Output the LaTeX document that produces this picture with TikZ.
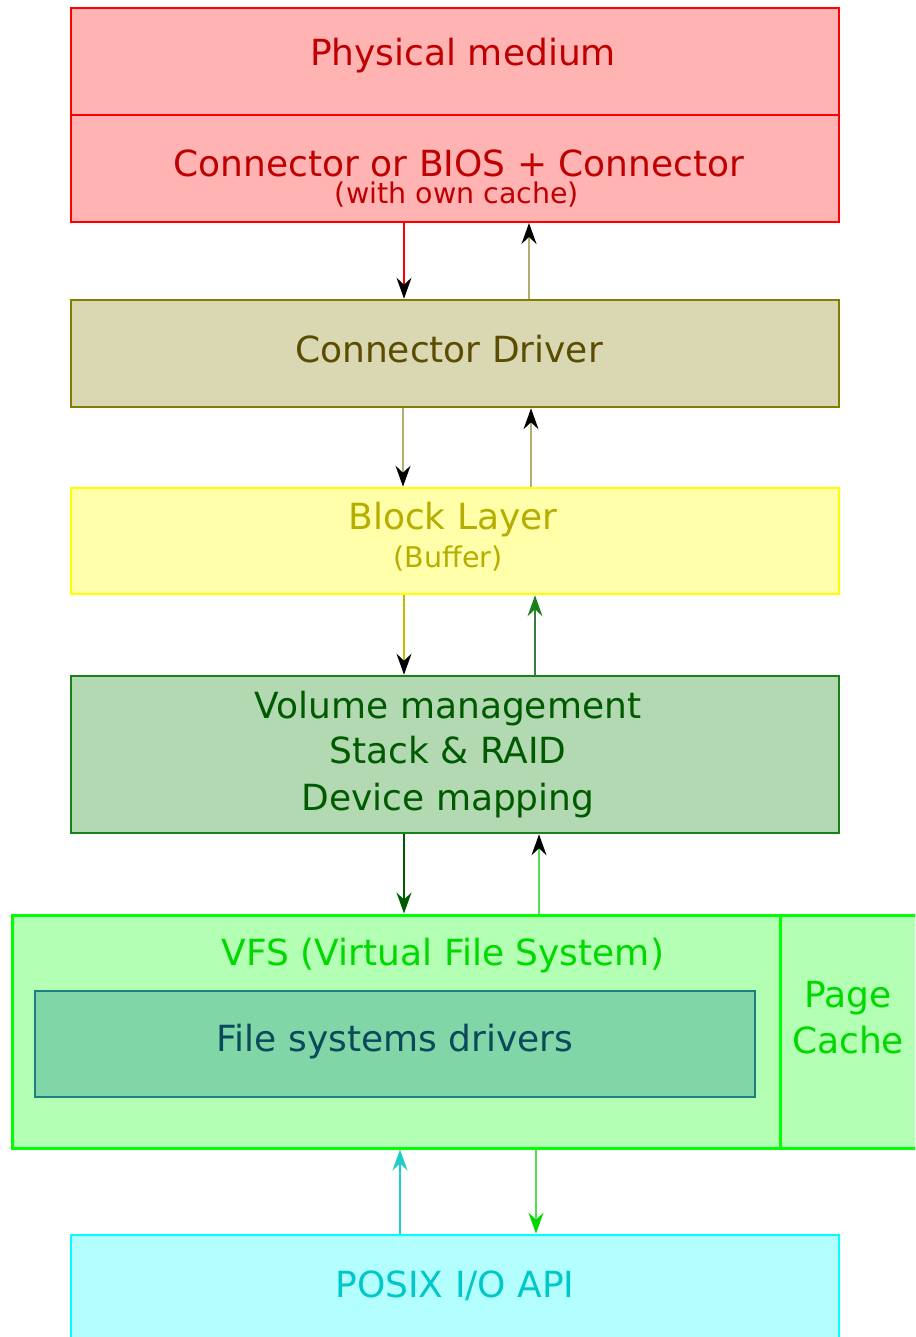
\documentclass[tikz,border=0pt]{standalone}
\usepackage{fontspec}
\setmainfont{DejaVu Sans}
\usetikzlibrary{arrows.meta}
\definecolor{redfill}{HTML}{FFB3B3}
\definecolor{redline}{HTML}{FF0000}
\definecolor{redtext}{HTML}{C00000}
\definecolor{olfill}{HTML}{D9D8B3}
\definecolor{olline}{HTML}{857D00}
\definecolor{oltext}{HTML}{5A4C00}
\definecolor{olarrow}{HTML}{B3B06E}
\definecolor{yefill}{HTML}{FFFFAA}
\definecolor{yeline}{HTML}{FFFF00}
\definecolor{yetext}{HTML}{B5AD00}
\definecolor{yearrow}{HTML}{C2BC00}
\definecolor{dgfill}{HTML}{B3D9B3}
\definecolor{dgline}{HTML}{1A801A}
\definecolor{dgtext}{HTML}{005A00}
\definecolor{dgarrow}{HTML}{3A7D3A}
\definecolor{lgfill}{HTML}{B3FFB3}
\definecolor{lgline}{HTML}{00FF00}
\definecolor{lgtext}{HTML}{00D800}
\definecolor{lgarrow}{HTML}{55DD55}
\definecolor{tefill}{HTML}{80D6A6}
\definecolor{teline}{HTML}{1A8080}
\definecolor{tetext}{HTML}{0A4A5A}
\definecolor{cyfill}{HTML}{B3FFFF}
\definecolor{cyline}{HTML}{00FFFF}
\definecolor{cytext}{HTML}{00C8C8}
\definecolor{cyarrow}{HTML}{22CCCC}
\tikzset{
  box/.style={draw, rectangle, line width=2.6pt, inner sep=0pt},
  lbl/.style={inner sep=0pt, font=\fontsize{36}{40}\selectfont},
  small/.style={inner sep=0pt, font=\fontsize{28.5}{32}\selectfont},
  tip/.style={-{Stealth[length=21pt,width=15pt,inset=7pt,color=#1]}, line width=1.5pt},
}
\begin{document}
\begin{tikzpicture}[x=1pt,y=-1pt]
\useasboundingbox (0,0) rectangle (915,1337);
\begin{scope}
\clip (0,0) rectangle (915,1337);
% boxes
\node[box, draw=redline, fill=redfill, line width=2pt, minimum width=768pt, minimum height=107pt] (phys) at (455,61.5) {};
\node[box, draw=redline, fill=redfill, line width=2pt, minimum width=768pt, minimum height=107pt] (conn) at (455,168.5) {};
\node[box, draw=olline, fill=olfill, minimum width=768pt, minimum height=107pt] (drv) at (455,353.5) {};
\node[box, draw=yeline, fill=yefill, minimum width=768pt, minimum height=106pt] (blk) at (455,541) {};
\node[box, draw=dgline, fill=dgfill, minimum width=768pt, minimum height=157pt] (vol) at (455,754.5) {};
\node[box, draw=lgline, fill=lgfill, line width=3pt, minimum width=768pt, minimum height=233pt] (vfs) at (396,1031.5) {};
\node[box, draw=lgline, fill=lgfill, line width=3pt, minimum width=137pt, minimum height=233pt] (page) at (848.5,1031.5) {};
\node[box, draw=teline, fill=tefill, minimum width=720pt, minimum height=106pt] (fsd) at (395,1044) {};
\node[box, draw=cyline, fill=cyfill, minimum width=768pt, minimum height=112pt] (posix) at (455,1291) {};
\end{scope}
% texts
\node[lbl, text=redtext] (tphys) at (463,56) {Physical medium};
\node[lbl, text=redtext] (tconn) at (459,163) {Connector or BIOS + Connector};
\node[small, text=redtext] (tconn2) at (457,195) {(with own cache)};
\node[lbl, text=oltext] (tdrv) at (449,349) {Connector Driver};
\node[lbl, text=yetext] (tblk) at (453,520) {Block Layer};
\node[small, text=yetext] (tblk2) at (448,559) {(Buffer)};
\node[lbl, text=dgtext] (tvol1) at (448,709) {Volume management};
\node[lbl, text=dgtext] (tvol2) at (448,750) {Stack \& RAID};
\node[lbl, text=dgtext] (tvol3) at (448,801) {Device mapping};
\node[lbl, text=lgtext] (tvfs) at (443,956) {VFS (Virtual File System)};
\node[lbl, text=tetext] (tfsd) at (395,1042) {File systems drivers};
\node[lbl, text=lgtext] (tpage1) at (848,998) {Page};
\node[lbl, text=lgtext] (tpage2) at (848,1040) {Cache};
\node[lbl, text=cytext] (tposix) at (455,1286) {POSIX I/O API};
% arrows
\draw[tip=black, draw=redline] (conn.south -| 404,0) -- (drv.north -| 404,0);
\draw[tip=black, draw=olarrow] (drv.north -| 529,0) -- (conn.south -| 529,0);
\draw[tip=black, draw=olarrow] (drv.south -| 403,0) -- (blk.north -| 403,0);
\draw[tip=black, draw=olarrow] (blk.north -| 531,0) -- (drv.south -| 531,0);
\draw[tip=black, draw=yearrow] (blk.south -| 404,0) -- (vol.north -| 404,0);
\draw[tip=dgline, draw=dgarrow] (vol.north -| 535,0) -- (blk.south -| 535,0);
\draw[tip=dgtext, draw=dgtext] (vol.south -| 404,0) -- (vfs.north -| 404,0);
\draw[tip=black, draw=lgarrow] (vfs.north -| 539,0) -- (vol.south -| 539,0);
\draw[tip=cyarrow, draw=cyarrow] (posix.north -| 400,0) -- (vfs.south -| 400,0);
\draw[tip=lgtext, draw=lgarrow] (vfs.south -| 536,0) -- (posix.north -| 536,0);
\end{tikzpicture}
\end{document}
